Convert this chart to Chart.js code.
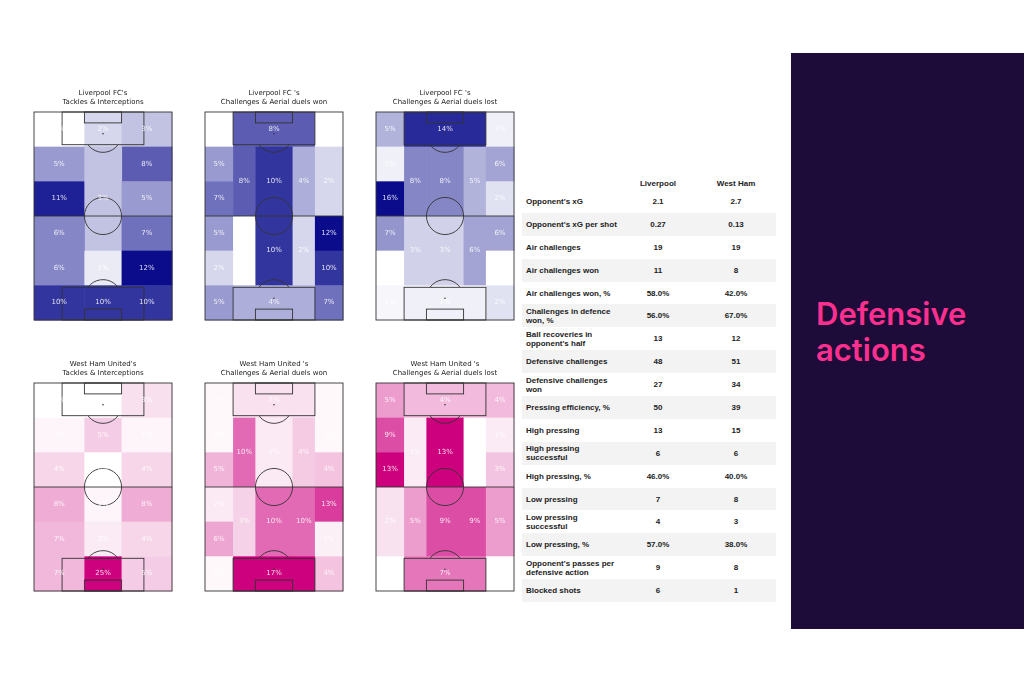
<!DOCTYPE html>
<html><head><meta charset="utf-8">
<script src="https://cdn.jsdelivr.net/npm/chart.js@4.4.0/dist/chart.umd.min.js"></script>
<style>
body{margin:0;width:1024px;height:683px;background:#fff;position:relative;overflow:hidden;font-family:"Liberation Sans",Arial,sans-serif}
.pc{position:absolute;width:146px;height:242px}
#tbl{position:absolute;left:522px;top:176px;width:254px;border-collapse:collapse;font-size:8px;font-weight:bold;color:#222;table-layout:fixed}
#tbl td,#tbl th{height:22.9px;padding:0 0 0 4px;line-height:9px}
#tbl th{height:14px;font-size:8px}
#tbl tr:nth-child(odd) td{background:#f3f3f3}
#tbl td.v{text-align:center}
#panel{position:absolute;left:791px;top:53px;width:233px;height:576px;background:#1d0b39}
#panel div{position:absolute;left:25px;top:243px;color:#ff2f8f;font-family:Inter,sans-serif;font-weight:600;font-size:31px;line-height:36px}
</style></head><body>
<canvas id="p0" class="pc" width="146" height="242" style="left:30px;top:82px"></canvas>
<canvas id="p1" class="pc" width="146" height="242" style="left:201px;top:82px"></canvas>
<canvas id="p2" class="pc" width="146" height="242" style="left:372px;top:82px"></canvas>
<canvas id="p3" class="pc" width="146" height="242" style="left:30px;top:353px"></canvas>
<canvas id="p4" class="pc" width="146" height="242" style="left:201px;top:353px"></canvas>
<canvas id="p5" class="pc" width="146" height="242" style="left:372px;top:353px"></canvas>
<table id="tbl"><colgroup><col style="width:98px"><col style="width:72px"><col style="width:84px"></colgroup></table>
<div id="panel"><div>Defensive<br>actions</div></div>
<script>
// zone edges in metres (pitch 68 x 105)
const colEdges=[0,13.84,24.84,43.16,54.16,68];
const rowEdges=[0,17.5,35,52.5,70,87.5,105];
// cells: [colStart,colEnd,rowStart,rowEnd,value]
const lfcTackles=[[0,2,0,1,0],[2,3,0,1,2],[3,5,0,1,3],[0,2,1,2,5],[3,5,1,2,8],[0,2,2,3,11],[2,3,1,4,3],[3,5,2,3,5],[0,2,3,4,6],[3,5,3,4,7],[0,2,4,5,6],[2,3,4,5,1],[3,5,4,5,12],[0,2,5,6,10],[2,3,5,6,10],[3,5,5,6,10]];
const lfcWon=[[0,1,0,1,0],[1,4,0,1,8],[4,5,0,1,0],[0,1,1,2,5],[0,1,2,3,7],[1,2,1,3,8],[2,3,1,3,10],[3,4,1,3,4],[4,5,1,3,2],[0,1,3,4,5],[0,1,4,5,2],[1,2,3,5,0],[2,3,3,5,10],[3,4,3,5,2],[4,5,3,4,12],[4,5,4,5,10],[0,1,5,6,5],[1,4,5,6,4],[4,5,5,6,7]];
const lfcLost=[[0,1,0,1,5],[1,4,0,1,14],[4,5,0,1,1],[0,1,1,2,1],[0,1,2,3,16],[1,2,1,3,8],[2,3,1,3,8],[3,4,1,3,5],[4,5,1,2,6],[4,5,2,3,2],[0,1,3,4,7],[0,1,4,5,0],[1,2,3,5,3],[2,3,3,5,3],[3,4,3,5,6],[4,5,3,4,6],[4,5,4,5,0],[0,1,5,6,0.5],[1,4,5,6,1],[4,5,5,6,2]];
const whuTackles=[[0,2,0,1,0],[2,3,0,1,0],[3,5,0,1,3],[0,2,1,2,1],[2,3,1,2,5],[3,5,1,2,1],[0,2,2,3,4],[2,3,2,3,0],[3,5,2,3,4],[0,2,3,4,8],[2,3,3,4,1],[3,5,3,4,8],[0,2,4,5,7],[2,3,4,5,2],[3,5,4,5,4],[0,2,5,6,7],[2,3,5,6,25],[3,5,5,6,5]];
const whuWon=[[0,1,0,1,0.5],[1,4,0,1,2],[4,5,0,1,0.5],[0,1,1,2,0.5],[0,1,2,3,5],[1,2,1,3,10],[2,3,1,3,1.5],[3,4,1,3,3.5],[4,5,1,2,0.5],[4,5,2,3,4],[0,1,3,4,1.5],[0,1,4,5,6],[1,2,3,5,3],[2,3,3,5,10],[3,4,3,5,10],[4,5,3,4,13],[4,5,4,5,1],[0,1,5,6,0.5],[1,4,5,6,17],[4,5,5,6,4]];
const whuLost=[[0,1,0,1,5],[1,4,0,1,3.5],[4,5,0,1,3.5],[0,1,1,2,9],[0,1,2,3,13],[1,2,1,3,1],[2,3,1,3,13],[3,4,1,3,0],[4,5,1,2,1],[4,5,2,3,3],[0,1,3,5,1.5],[1,2,3,5,5],[2,3,3,5,9],[3,4,3,5,9],[4,5,3,5,5],[0,1,5,6,0],[1,4,5,6,7],[4,5,5,6,0]];
const titles=[["Liverpool FC's","Tackles & Interceptions"],["Liverpool FC 's","Challenges & Aerial duels won"],["Liverpool FC 's","Challenges & Aerial duels lost"],["West Ham United's","Tackles & Interceptions"],["West Ham United 's","Challenges & Aerial duels won"],["West Ham United 's","Challenges & Aerial duels lost"]];
const pitches=[lfcTackles,lfcWon,lfcLost,whuTackles,whuWon,whuLost];
const teamColor=[[10,12,140],[10,12,140],[10,12,140],[205,0,125],[205,0,125],[205,0,125]];

const tableRows=["Opponent's xG","Opponent's xG per shot","Air challenges","Air challenges won","Air challenges won, %","Challenges in defence won, %","Ball recoveries in opponent's half","Defensive challenges","Defensive challenges won","Pressing efficiency, %","High pressing","High pressing successful","High pressing, %","Low pressing","Low pressing successful","Low pressing, %","Opponent's passes per defensive action","Blocked shots"];
const liverpool=["2.1","0.27","19","11","58.0%","56.0%","13","48","27","50","13","6","46.0%","7","4","57.0%","9","6"];
const westHam=["2.7","0.13","19","8","42.0%","67.0%","12","51","34","39","15","6","40.0%","8","3","38.0%","8","1"];

let h='<tr><th></th><th>Liverpool</th><th>West Ham</th></tr>';
tableRows.forEach((r,i)=>{h+=`<tr><td>${r}</td><td class="v">${liverpool[i]}</td><td class="v">${westHam[i]}</td></tr>`;});
document.getElementById('tbl').insertAdjacentHTML('beforeend',h);

const pitchPlugin={id:'pitch',
 beforeDatasetsDraw(chart){
  const {ctx,scales:{x,y}}=chart;const o=chart.options.plugins.pitch;
  const mx=Math.max(...o.cells.map(c=>c[4]));
  ctx.save();
  o.cells.forEach(c=>{
   const x0=x.getPixelForValue(colEdges[c[0]]),x1=x.getPixelForValue(colEdges[c[1]]);
   const y0=y.getPixelForValue(rowEdges[c[2]]),y1=y.getPixelForValue(rowEdges[c[3]]);
   const t=c[4]/mx,col=o.color;
   const r=Math.round(255+(col[0]-255)*t),g=Math.round(255+(col[1]-255)*t),b=Math.round(255+(col[2]-255)*t);
   ctx.fillStyle=`rgb(${r},${g},${b})`;
   ctx.fillRect(x0,y0,x1-x0+0.5,y1-y0+0.5);
  });
  ctx.strokeStyle='#333';ctx.lineWidth=0.9;
  const R=(a,b,c,d)=>{const px=x.getPixelForValue(a),py=y.getPixelForValue(b);ctx.strokeRect(px,py,x.getPixelForValue(c)-px,y.getPixelForValue(d)-py);};
  R(0,0,68,105);
  ctx.beginPath();ctx.moveTo(x.getPixelForValue(0),y.getPixelForValue(52.5));ctx.lineTo(x.getPixelForValue(68),y.getPixelForValue(52.5));ctx.stroke();
  const sx=(x.getPixelForValue(68)-x.getPixelForValue(0))/68;
  ctx.beginPath();ctx.arc(x.getPixelForValue(34),y.getPixelForValue(52.5),9.15*sx,0,2*Math.PI);ctx.stroke();
  R(13.84,0,54.16,16.5);R(24.84,0,43.16,5.5);R(13.84,88.5,54.16,105);R(24.84,99.5,43.16,105);
  const a=Math.acos(5.5/9.15);
  ctx.beginPath();ctx.arc(x.getPixelForValue(34),y.getPixelForValue(11),9.15*sx,Math.PI/2-a,Math.PI/2+a);ctx.stroke();
  ctx.beginPath();ctx.arc(x.getPixelForValue(34),y.getPixelForValue(94),9.15*sx,-Math.PI/2-a,-Math.PI/2+a);ctx.stroke();
  ctx.fillStyle='#333';
  [11,94].forEach(v=>{ctx.beginPath();ctx.arc(x.getPixelForValue(34),y.getPixelForValue(v),0.8,0,7);ctx.fill();});
  ctx.fillStyle='rgba(255,255,255,0.85)';ctx.font='7px "DejaVu Sans"';ctx.textAlign='center';ctx.textBaseline='middle';
  o.cells.forEach(c=>{
   const cx=(x.getPixelForValue(colEdges[c[0]])+x.getPixelForValue(colEdges[c[1]]))/2;
   const cy=(y.getPixelForValue(rowEdges[c[2]])+y.getPixelForValue(rowEdges[c[3]]))/2;
   ctx.fillText(Math.round(c[4])+'%',cx,cy);
  });
  ctx.fillStyle='#222';ctx.font='7px "DejaVu Sans"';ctx.textBaseline='alphabetic';
  const mid=(chart.chartArea.left+chart.chartArea.right)/2;
  ctx.fillText(o.title[0],mid,13);ctx.fillText(o.title[1],mid,22);
  ctx.restore();
 }};

pitches.forEach((cells,i)=>{
 new Chart(document.getElementById('p'+i),{type:'scatter',
  data:{datasets:[{data:cells.map(c=>({x:(colEdges[c[0]]+colEdges[c[1]])/2,y:(rowEdges[c[2]]+rowEdges[c[3]])/2})),pointRadius:0}]},
  options:{responsive:false,maintainAspectRatio:false,animation:false,events:[],
   layout:{padding:{left:4,right:4,top:30,bottom:4}},
   scales:{x:{display:false,min:0,max:68},y:{display:false,min:0,max:105,reverse:true}},
   plugins:{legend:{display:false},tooltip:{enabled:false},pitch:{cells,color:teamColor[i],title:titles[i]}}},
  plugins:[pitchPlugin]});
});
</script></body></html>
